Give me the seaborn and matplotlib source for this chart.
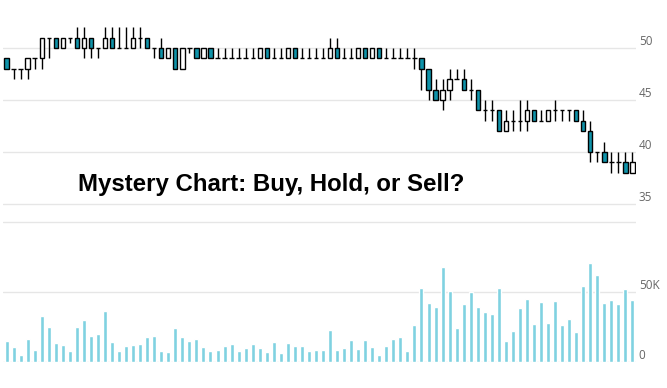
import numpy as np
import pandas as pd
import matplotlib
matplotlib.use("Agg")
import matplotlib.pyplot as plt
import seaborn as sns

# ---------------- data ----------------
opens = [49, 48, 48, 48, 49, 49, 51, 51, 50, 51,
         51, 50, 51, 50, 50, 51, 50, 50, 50, 51,
         51, 50, 50, 49, 50, 48, 50, 50, 49, 50,
         49, 49, 49, 49, 49, 49, 49, 50, 49, 49,
         49, 50, 49, 49, 49, 49, 49, 50, 49, 49,
         49, 50, 49, 50, 49, 49, 49, 49, 49, 49,
         48, 46, 45, 46, 47, 47, 46, 46, 44, 44,
         44, 42, 43, 43, 43, 44, 43, 43, 44, 44,
         44, 44, 43, 42, 40, 40, 39, 39, 39, 38]
highs = [49, 48, 48, 49, 49, 51, 51, 51, 51, 51,
         52, 52, 51, 50, 52, 52, 52, 52, 52, 52,
         51, 50, 51, 50, 50, 50, 50, 50, 50, 50,
         50, 50, 50, 50, 50, 50, 50, 50, 50, 50,
         50, 50, 50, 50, 50, 50, 51, 51, 50, 50,
         50, 50, 50, 50, 50, 50, 50, 50, 50, 49,
         48, 47, 47, 48, 48, 48, 47, 46, 45, 45,
         44, 44, 44, 45, 45, 44, 44, 44, 45, 44,
         44, 44, 44, 43, 40, 41, 40, 40, 40, 40]
lows = [48, 47, 47, 47, 48, 48, 49, 50, 50, 50.5,
        50, 49, 49, 49, 50, 50, 50, 50, 50, 50,
        50, 49, 49, 49, 48, 48, 49.5, 49, 49, 49,
        49, 49, 49, 49, 49, 49, 49, 49, 49, 49,
        49, 49, 49, 49, 49, 49, 49, 49, 49, 49,
        49, 49, 49, 49, 49, 49, 49, 49, 48, 46,
        45, 45, 44, 45, 47, 46, 45, 44, 43, 43,
        42, 42, 42, 42, 42, 43, 43, 43, 43, 43,
        43, 43, 42, 39, 39, 39, 38, 38, 38, 38]
closes = [48, 48, 48, 49, 49, 51, 51, 50, 51, 51,
          50, 51, 50, 50, 51, 50, 50, 50, 51, 51,
          50, 50, 49, 50, 48, 50, 50, 49, 50, 49,
          49, 49, 49, 49, 49, 49, 50, 49, 49, 49,
          50, 49, 49, 49, 49, 49, 50, 49, 49, 49,
          50, 49, 50, 49, 49, 49, 49, 49, 49, 48,
          46, 45, 46, 47, 47, 46, 46, 44, 44, 44,
          42, 43, 43, 43, 44, 43, 43, 44, 44, 44,
          44, 43, 42, 40, 40, 39, 39, 39, 38, 39]
volumes = [15.0, 10.5, 4.8, 16.2, 8.6, 32.6, 24.8, 13.3, 11.9, 7.6,
           24.8, 29.8, 18.3, 19.8, 36.2, 14.0, 7.6, 11.2, 11.9, 12.6,
           17.6, 18.3, 7.6, 6.9, 24.0, 17.6, 14.8, 16.2, 10.5, 7.6,
           8.3, 11.2, 12.6, 7.6, 9.8, 12.6, 9.8, 6.9, 14.0, 6.2,
           13.3, 11.2, 11.2, 7.6, 8.3, 8.3, 22.6, 8.3, 9.8, 15.5,
           9.1, 15.5, 10.5, 4.8, 11.2, 16.2, 17.6, 7.6, 26.2, 52.6,
           41.9, 39.0, 67.6, 50.9, 24.0, 41.2, 49.8, 39.0, 35.5, 34.0,
           52.6, 14.8, 21.9, 38.3, 44.8, 26.9, 42.6, 27.6, 43.3, 26.2,
           30.5, 21.2, 54.0, 70.5, 61.9, 41.9, 44.0, 41.2, 51.9, 44.0]
price_ticks = [35, 40, 45, 50]
price_tick_labels = ["35", "40", "45", "50"]
vol_ticks = [0, 50000, 100000]
vol_tick_labels = ["0", "50K", ""]
title = "Mystery Chart: Buy, Hold, or Sell?"

# ---------------- figure ----------------
sns.set_theme(style="white")
plt.rcParams["font.family"] = ["Open Sans", "DejaVu Sans"]

W, H = 667, 388
fig = plt.figure(figsize=(W / 100, H / 100), dpi=100)
left = 3 / W
width = 633 / W

ax_p = fig.add_axes([left, 1 - 210 / H, width, 210 / H])
ax_v = fig.add_axes([left, 1 - 362 / H, width, (362 - 215) / H])

n = len(opens)
x = np.arange(n)
o = np.array(opens, float)
h = np.array(highs, float)
l = np.array(lows, float)
c = np.array(closes, float)

teal = "#0f93aa"
body_w = 0.62

# wicks
ax_p.vlines(x, l, h, color="black", linewidth=1.0, zorder=2)
# bodies
up = c > o
down = c < o
doji = c == o
ax_p.bar(x[up], (c - o)[up], bottom=o[up], width=body_w, color="white",
         edgecolor="black", linewidth=1.0, zorder=3)
ax_p.bar(x[down], (o - c)[down], bottom=c[down], width=body_w, color=teal,
         edgecolor="black", linewidth=1.0, zorder=3)
ax_p.hlines(o[doji], x[doji] - body_w / 2, x[doji] + body_w / 2,
            color="black", linewidth=1.0, zorder=3)

ax_p.set_xlim(-0.5, n - 0.5)
ax_p.set_ylim(50 - 162 / 10.4, 50 + 48 / 10.4)
ax_p.set_yticks(price_ticks)
ax_p.set_yticklabels(price_tick_labels)
ax_p.set_xticks([])

# volume
df = pd.DataFrame({"idx": x, "volume": np.array(volumes) * 1000})
sns.barplot(data=df, x="idx", y="volume", ax=ax_v, color="#7fd2e1",
            saturation=1, width=0.57, errorbar=None, zorder=2)
ax_v.set_xlim(-0.5, n - 0.5)
ax_v.set_ylim(0, (362 - 215) / 70 * 50000)
ax_v.set_yticks(vol_ticks)
ax_v.set_yticklabels(vol_tick_labels)
ax_v.set_xticks([])
ax_v.set_xlabel("")
ax_v.set_ylabel("")

for ax in (ax_p, ax_v):
    ax.set_facecolor("none")
    for s in ax.spines.values():
        s.set_visible(False)
    ax.yaxis.tick_right()
    ax.tick_params(axis="y", length=0, pad=2, labelsize=8.5, labelcolor="#666666")
    for lbl in ax.get_yticklabels():
        lbl.set_verticalalignment("bottom")
    ax.grid(axis="y", color="#e6e6e6", linewidth=1.0, zorder=0)
    ax.set_axisbelow(True)

fig.text(271 / W, 1 - 184 / H, title, ha="center", va="center",
         fontsize=17.3, fontweight="bold", family=["Liberation Sans", "DejaVu Sans"],
         color="black")

fig.savefig("out.png", dpi=100)
